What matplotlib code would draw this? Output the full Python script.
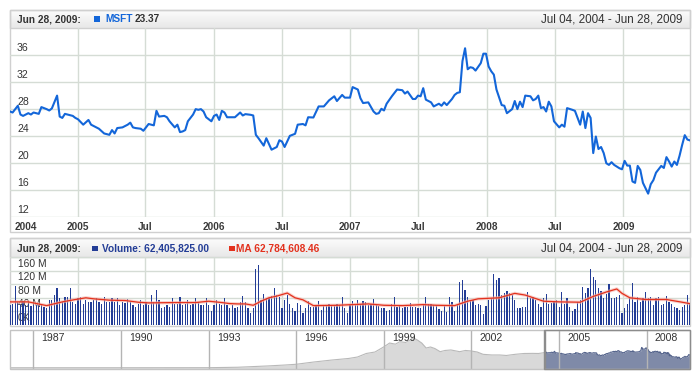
import numpy as np
import pandas as pd
import matplotlib
matplotlib.use('Agg')
import matplotlib.pyplot as plt
from matplotlib.patches import Rectangle
from matplotlib.colors import LinearSegmentedColormap

plt.rcParams['font.family'] = ['Liberation Sans', 'DejaVu Sans']

# ---------------- data ----------------
START = '2004-07-04'
END = '2009-06-28'

# weekly closes (week index from START, value)
price_week = [0, 1, 3, 4, 5, 7, 8, 9, 10, 11, 12, 14, 15, 16, 18, 19, 20, 21, 24, 25, 26, 28, 30, 31, 33, 34,
              36, 38, 39, 40, 41, 43, 45, 46, 47, 48, 50, 51, 53, 54, 55, 56, 57, 59, 60, 61, 63, 64, 65, 66,
              67, 68, 70, 71, 72, 73, 74, 75, 77, 78, 79, 80, 81, 82, 83, 86, 88, 89, 90, 92, 93, 94, 95, 97,
              98, 100, 102, 103, 104, 105, 107, 109, 110, 112, 113, 114, 116, 118, 120, 122, 124, 125, 127,
              128, 130, 131, 133, 134, 135, 137, 139, 140, 141, 142, 143, 144, 146, 148, 150, 151, 152, 154,
              155, 156, 157, 158, 159, 161, 162, 164, 165, 166, 167, 169, 170, 171, 172, 173, 174, 175, 176,
              177, 178, 180, 181, 182, 183, 184, 185, 186, 188, 189, 190, 192, 193, 194, 195, 196, 197, 199,
              200, 201, 202, 203, 204, 205, 206, 207, 208, 210, 211, 212, 213, 215, 216, 218, 219, 220, 221,
              222, 223, 224, 225, 226, 227, 228, 229, 230, 231, 233, 234, 235, 236, 237, 238, 239, 240, 241,
              242, 244, 245, 246, 247, 249, 250, 251, 252, 253, 254, 255, 256, 257, 258, 259, 260]
price = [27.65, 27.5, 28.5, 27.2, 27.0, 27.4, 27.2, 27.5, 27.4, 27.3, 28.3, 28.0, 27.8, 28.1, 30.0, 26.9, 26.7,
         27.3, 27.0, 26.7, 26.5, 25.7, 26.4, 25.7, 25.3, 25.1, 24.4, 24.2, 24.9, 24.4, 25.2, 25.3, 25.7, 26.0,
         25.3, 25.2, 25.1, 24.8, 25.8, 25.7, 25.6, 27.75, 26.9, 27.0, 26.8, 26.2, 25.3, 25.7, 24.6, 24.7, 24.9,
         26.2, 27.2, 28.0, 27.9, 28.0, 27.65, 26.8, 26.2, 27.0, 27.2, 26.4, 27.75, 27.5, 26.8, 26.8, 27.5,
         27.06, 27.26, 27.16, 27.06, 24.2, 23.7, 22.6, 23.7, 22.0, 22.4, 23.4, 23.2, 22.4, 24.05, 24.35, 25.7,
         25.8, 25.6, 26.8, 26.76, 28.4, 28.4, 29.3, 29.9, 29.2, 30.1, 29.7, 29.7, 31.26, 30.9, 29.6, 28.9,
         29.0, 27.65, 27.3, 27.4, 28.05, 27.8, 28.8, 29.9, 30.9, 30.8, 30.3, 30.6, 29.5, 29.5, 30.0, 29.9,
         31.1, 29.4, 29.0, 28.4, 28.8, 28.5, 29.0, 28.6, 29.5, 30.1, 30.4, 30.5, 35.1, 37.0, 33.9, 34.2, 34.1,
         33.7, 34.8, 36.2, 36.2, 34.3, 33.6, 33.1, 30.9, 28.6, 28.5, 27.4, 28.0, 29.2, 28.0, 29.1, 28.3, 30.0,
         29.9, 29.3, 29.5, 30.0, 28.15, 28.3, 27.65, 29.1, 28.4, 26.2, 25.3, 25.7, 25.4, 28.15, 27.9, 27.75,
         25.7, 27.65, 25.2, 27.4, 26.7, 21.5, 23.95, 22.1, 22.4, 21.5, 20.0, 19.75, 20.15, 19.75, 19.26, 19.1,
         20.35, 19.65, 19.65, 17.3, 17.1, 19.6, 19.0, 17.1, 15.5, 16.9, 17.5, 18.6, 19.6, 19.3, 20.9, 20.25,
         19.5, 20.25, 19.75, 21.1, 22.7, 24.15, 23.5, 23.37]

# weekly volume in millions, one per week from START
volume_m = [58, 63, 115, 68, 60, 70, 58, 63, 57, 60,
            58, 58, 63, 54, 51, 75, 73, 88, 110, 78,
            68, 83, 83, 110, 68, 63, 78, 83, 63, 75,
            68, 68, 73, 78, 68, 63, 83, 68, 68, 78,
            68, 78, 58, 68, 66, 76, 68, 58, 54, 63,
            73, 58, 68, 58, 88, 68, 102, 73, 49, 54,
            58, 54, 80, 63, 63, 83, 60, 63, 73, 58,
            63, 78, 68, 60, 58, 78, 58, 41, 58, 73,
            63, 60, 78, 58, 49, 58, 51, 52, 68, 86,
            68, 51, 34, 49, 164, 176, 73, 90, 80, 80,
            86, 109, 88, 83, 49, 73, 88, 63, 49, 41,
            65, 58, 34, 49, 70, 54, 54, 60, 71, 44,
            60, 58, 63, 58, 58, 63, 58, 83, 49, 34,
            60, 71, 63, 73, 63, 71, 68, 58, 61, 76,
            58, 57, 51, 49, 41, 44, 63, 82, 54, 57,
            49, 52, 54, 66, 54, 52, 49, 49, 58, 81,
            63, 63, 60, 58, 46, 41, 58, 37, 83, 68,
            41, 63, 127, 132, 102, 83, 70, 75, 58, 63,
            60, 32, 57, 73, 80, 151, 132, 137, 88, 93,
            100, 93, 88, 73, 49, 49, 52, 52, 96, 78,
            83, 75, 63, 54, 80, 90, 63, 66, 68, 73,
            54, 96, 63, 78, 54, 41, 47, 68, 75, 112,
            93, 109, 164, 142, 132, 109, 100, 78, 90, 122,
            80, 80, 83, 88, 36, 51, 63, 78, 125, 68,
            83, 68, 78, 96, 80, 83, 60, 78, 83, 58,
            63, 86, 68, 63, 54, 49, 44, 54, 58, 88, 62.405825]

# moving average of volume (millions)
ma_week = [0, 7, 14, 20, 25, 29, 32, 38, 44, 49, 53, 63, 71, 76, 81, 84, 87, 90, 93, 96, 99, 102, 106, 109,
           112, 116, 125, 131, 137, 143, 150, 158, 163, 170, 175, 179, 187, 193, 197, 204, 210, 218, 223,
           228, 232, 234, 237, 243, 251, 257, 260]
ma_m = [68, 68, 57, 68, 75, 80, 77, 73, 72, 67, 65, 66, 66, 70, 66, 63, 62, 62, 58, 70, 80, 85, 94, 80,
        74, 57, 58, 60, 62, 58, 57, 60, 58, 57, 70, 77, 80, 93, 88, 70, 68, 67, 84, 97, 106, 93, 80, 75,
        75, 67, 62.78460846]

# navigator history before the selected range (decimal year, price)
nav_year = [1986.2, 1990.0, 1993.0, 1994.0, 1995.0, 1995.6, 1996.0, 1996.6, 1997.2, 1997.8, 1998.1, 1998.4,
            1998.7, 1999.0, 1999.2, 1999.4, 1999.55, 1999.75, 1999.9, 2000.0, 2000.15, 2000.3, 2000.45,
            2000.6, 2000.75, 2000.93, 2001.1, 2001.3, 2001.6, 2001.8, 2002.0, 2002.2, 2002.4, 2002.7,
            2002.97, 2003.2, 2003.5, 2003.8, 2004.1, 2004.3]
nav_price = [0.1, 0.1, 0.2, 1.0, 3.3, 5.0, 6.4, 10.5, 14.0, 17.0, 19.6, 26.0, 28.7, 38.0, 45.0, 43.0, 47.5,
             46.0, 50.5, 54.7, 50.5, 45.0, 36.0, 37.8, 35.0, 29.3, 31.5, 32.4, 29.3, 31.5, 30.5, 28.7, 24.5,
             23.3, 23.3, 22.4, 24.5, 26.0, 26.2, 26.0]

price_ticks = [12, 16, 20, 24, 28, 32, 36]
vol_ticks_m = [0, 40, 80, 120, 160]
vol_tick_labels = ['0K', '40 M', '80 M', '120 M', '160 M']
x_tick_dates = ['2005-01-01', '2005-07-01', '2006-01-01', '2006-07-01', '2007-01-01', '2007-07-01',
                '2008-01-01', '2008-07-01', '2009-01-01']
x_tick_labels = ['2005', 'Jul', '2006', 'Jul', '2007', 'Jul', '2008', 'Jul', '2009']
first_label = '2004'
nav_ticks = [1987, 1990, 1993, 1996, 1999, 2002, 2005, 2008]

header_date = 'Jun 28, 2009:'
range_text = 'Jul 04, 2004 - Jun 28, 2009'

# ---------------- helpers ----------------
W, H = 700, 380
fig = plt.figure(figsize=(W / 100, H / 100), dpi=100)
fig.patch.set_facecolor('white')

GRID = '#d5dcd5'
BORDER = '#d0d0d0'
TXT = '#333333'
BLUE = '#1366d9'
NAVY = '#233d96'
RED = '#e3311d'


def px_axes(x0, y0, x1, y1, z=1):
    return fig.add_axes([x0 / W, 1 - y1 / H, (x1 - x0) / W, (y1 - y0) / H], zorder=z)


def fig_rect(x0, y0, x1, y1, **kw):
    r = Rectangle((x0 / W, 1 - y1 / H), (x1 - x0) / W, (y1 - y0) / H, transform=fig.transFigure, **kw)
    fig.add_artist(r)


def fig_txt(x, y, s, **kw):
    fig.text(x / W, 1 - y / H, s, **kw)


hcmap = LinearSegmentedColormap.from_list('hdr', ['#fcfcfc', '#e8e8e8'])


def header(y0, y1):
    hx = px_axes(10, y0, 690, y1, z=0)
    hx.imshow(np.linspace(0, 1, 32).reshape(-1, 1), aspect='auto', cmap=hcmap,
              extent=[0, 1, 0, 1], origin='upper')
    hx.set_axis_off()


def clean(a):
    for s in a.spines.values():
        s.set_visible(False)
    a.set_xticks([])
    a.set_yticks([])
    a.patch.set_alpha(0)


start = pd.Timestamp(START)
end = pd.Timestamp(END)
price_dates = start + pd.to_timedelta(np.array(price_week) * 7, unit='D')
vol_dates = start + pd.to_timedelta(np.arange(len(volume_m)) * 7, unit='D')
ma_dates = start + pd.to_timedelta(np.array(ma_week) * 7, unit='D')
xt = pd.to_datetime(x_tick_dates)

# ---------------- price panel ----------------
header(10, 28)
fig_rect(10, 10, 690, 232, fill=False, ec=BORDER, lw=1)
fig_rect(10, 10, 690, 28, fill=False, ec=BORDER, lw=1)

ax = px_axes(10, 28, 690, 217.3, z=2)
clean(ax)
ax.set_xlim(start, end)
ax.set_ylim(12, 40)
for v in price_ticks:
    ax.axhline(v, color=GRID, lw=1.0, zorder=1)
for d in xt:
    ax.axvline(d, color=GRID, lw=1.0, zorder=1)
ax.plot(price_dates, price, color=BLUE, lw=1.5, solid_joinstyle='round', zorder=3)
for v in price_ticks:
    ax.annotate(str(v), xy=(7 / 680, v), xycoords=('axes fraction', 'data'), xytext=(0, 1.5),
                textcoords='offset points', va='bottom', ha='left', fontsize=7.6, color=TXT,
                annotation_clip=False, zorder=2)
xlab_y = -(226.7 - 217.3) / 189.3
for d, l in zip(xt, x_tick_labels):
    ax.text(d, xlab_y, l, transform=ax.get_xaxis_transform(), ha='center', va='center',
            fontsize=7.2, weight='bold', color='#3a3a3a', clip_on=False)
ax.text(5 / 680, xlab_y, first_label, transform=ax.transAxes, ha='left', va='center',
        fontsize=7.2, weight='bold', color='#3a3a3a', clip_on=False)

fig_txt(16.7, 19.3, header_date, weight='bold', fontsize=7.3, color=TXT, va='center')
fig_rect(94, 16.3, 99.5, 21.8, fc=BLUE, ec='none')
fig_txt(105, 19.3, 'MSFT', weight='bold', fontsize=7.3, color=BLUE, va='center')
fig_txt(135, 19.3, f'{price[-1]:.2f}', weight='bold', fontsize=7.3, color=TXT, va='center')
fig_txt(682, 19.3, range_text, ha='right', fontsize=8.4, color=TXT, va='center')

# ---------------- volume panel ----------------
header(238.3, 257)
fig_rect(10, 238.3, 690, 326, fill=False, ec=BORDER, lw=1)
fig_rect(10, 238.3, 690, 257, fill=False, ec=BORDER, lw=1)

av = px_axes(10, 257, 690, 325, z=2)
clean(av)
av.set_xlim(start, end)
av.set_ylim(0, 200e6)
for v in vol_ticks_m + [200]:
    av.axhline(v * 1e6, color=GRID, lw=1.0, zorder=1)
for d in xt:
    av.axvline(d, color=GRID, lw=1.0, zorder=1)
for v, l in zip(vol_ticks_m, vol_tick_labels):
    av.annotate(l, xy=(8 / 680, v * 1e6), xycoords=('axes fraction', 'data'), xytext=(0, 1.5),
                textcoords='offset points', va='bottom', ha='left', fontsize=7.4, color=TXT,
                annotation_clip=False, zorder=2)
av.bar(vol_dates, np.array(volume_m) * 1e6, width=3.1, color=NAVY, zorder=3)
av.plot(ma_dates, np.array(ma_m) * 1e6, color='#f6b3ab', lw=2.4, alpha=0.6, zorder=4)
av.plot(ma_dates, np.array(ma_m) * 1e6, color=RED, lw=0.9, zorder=5)

fig_txt(16.7, 248.3, header_date, weight='bold', fontsize=7.3, color=TXT, va='center')
fig_rect(92, 245.6, 97.5, 251.1, fc=NAVY, ec='none')
fig_txt(101.7, 248.3, f'Volume: {volume_m[-1] * 1e6:,.2f}', weight='bold', fontsize=7.3, color=NAVY,
        va='center')
fig_rect(229, 245.6, 234.5, 251.1, fc=RED, ec='none')
fig_txt(236, 248.3, f'MA {ma_m[-1] * 1e6:,.2f}', weight='bold', fontsize=7.3, color=RED, va='center')
fig_txt(682, 248.3, range_text, ha='right', fontsize=8.4, color=TXT, va='center')


# ---------------- navigator ----------------
def dec_year(ts):
    ts = pd.DatetimeIndex(ts)
    return ts.year + (ts.dayofyear - 1) / 365.25


sel_x = np.asarray(dec_year(price_dates))
sel_y = np.asarray(price, dtype=float)
all_x = np.concatenate([nav_year, sel_x])
all_y = np.concatenate([nav_price, sel_y])
x_lo, x_hi = 1986.2, float(dec_year([end])[0])
NAV_BOT = -2.73

an = px_axes(10, 330, 690, 369.3, z=2)
clean(an)
an.set_xlim(x_lo, x_hi)
an.set_ylim(NAV_BOT, 68.7)
n_gray = len(nav_year) + 1
an.fill_between(all_x[:n_gray], all_y[:n_gray], NAV_BOT, color='#d9d9d9', lw=0, zorder=1)
an.plot(all_x[:n_gray], all_y[:n_gray], color='#b9b9b9', lw=0.8, zorder=2)
an.fill_between(sel_x, sel_y, NAV_BOT, color='#7f8aa8', lw=0, zorder=1)
an.plot(sel_x, sel_y, color='#55648c', lw=0.8, zorder=2)
for t in nav_ticks:
    an.axvline(t, color='#b4b4b4', lw=1.0, zorder=3)
    an.annotate(str(t), xy=(t, 1), xycoords=('data', 'axes fraction'), xytext=(6, -2.5),
                textcoords='offset points', ha='left', va='top', fontsize=7.6, color=TXT, zorder=4)
an.axvline(sel_x[0], color='#8c8c8c', lw=1.0, zorder=3)
fig_rect(10, 330, 690, 369.3, fill=False, ec='#c4c4c4', lw=1, zorder=5)
fig_rect(544.3, 330, 690, 369.3, fill=False, ec='#8c8c8c', lw=1, zorder=6)

fig.savefig('out.png', dpi=100, facecolor='white')
